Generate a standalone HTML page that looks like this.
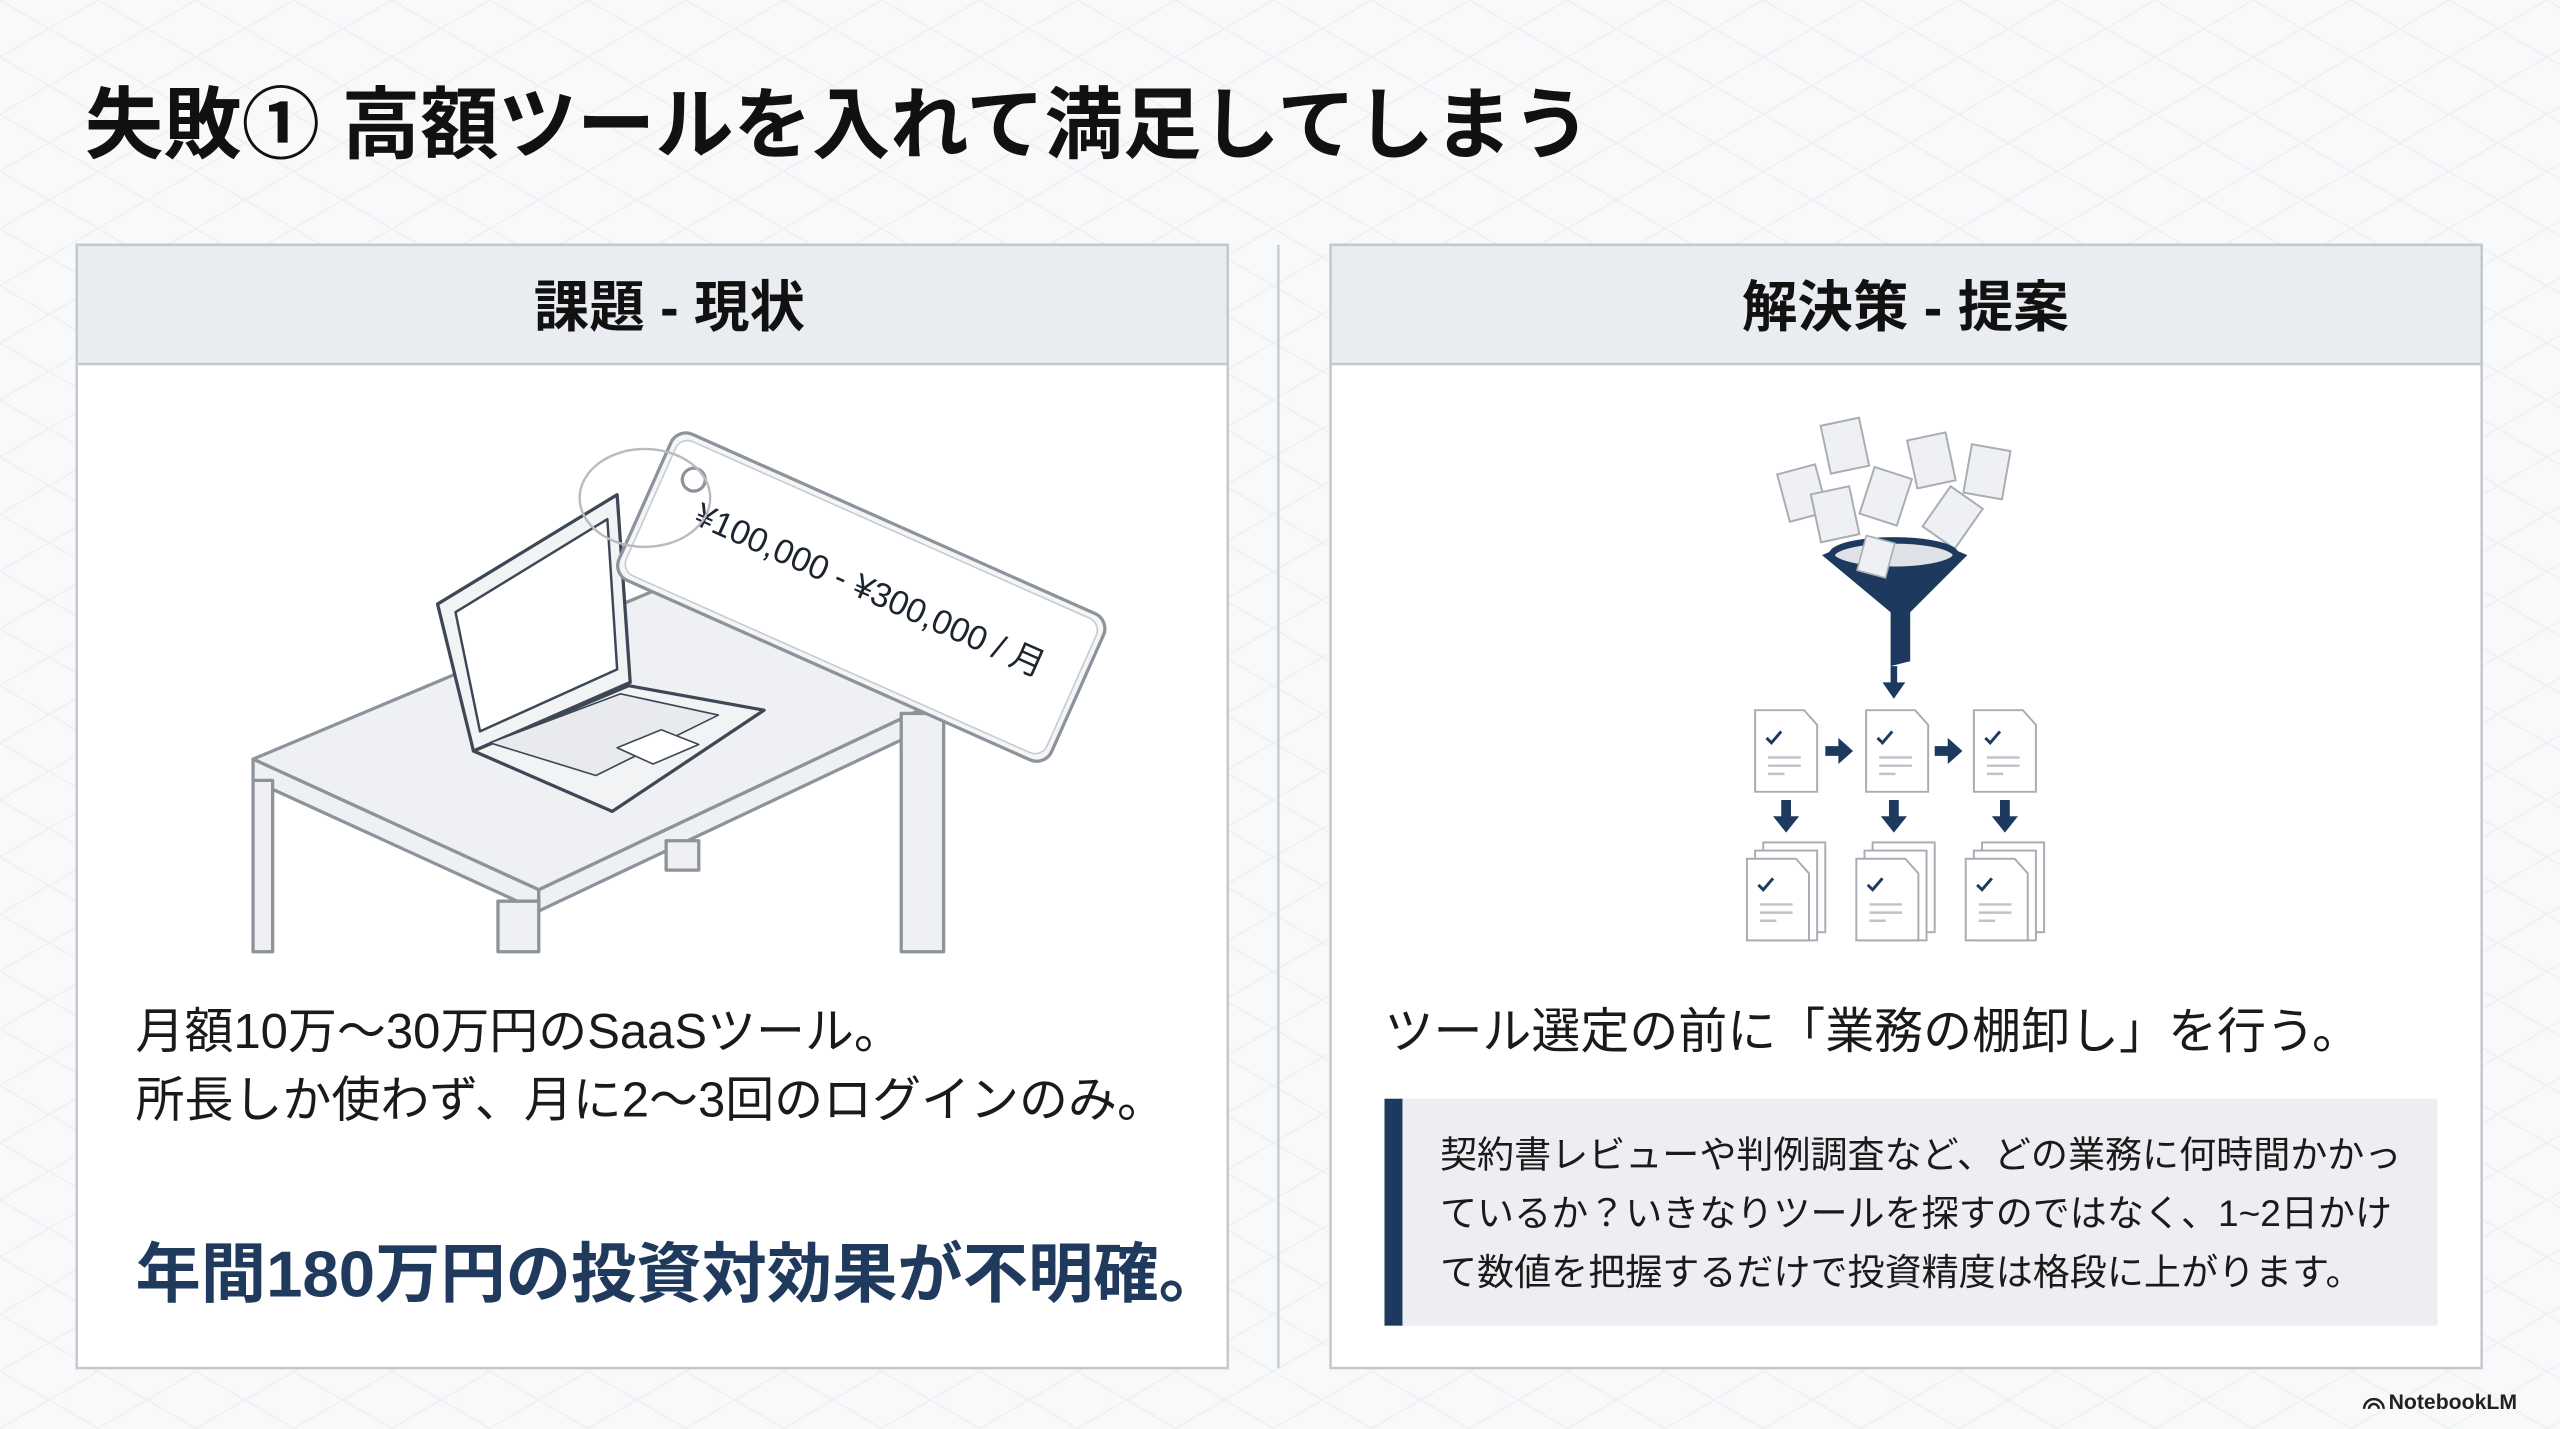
<!DOCTYPE html>
<html><head><meta charset="utf-8"><style>
html,body{margin:0;padding:0;background:#f7f8fa;}
svg{display:block}
text{font-family:"Liberation Sans","Noto Sans CJK JP",sans-serif;}
</style></head><body>
<svg width="2560" height="1429" viewBox="0 0 1568 875.3" preserveAspectRatio="none" xmlns="http://www.w3.org/2000/svg">
<defs>
<pattern id="grid" width="60" height="35" patternUnits="userSpaceOnUse">
<path d="M0 0 L60 35 M60 0 L0 35" stroke="#e9ecef" stroke-width="1" fill="none"/>
</pattern>
</defs>
<rect width="1568" height="876" fill="#f8f9fa"/>
<rect width="1568" height="876" fill="url(#grid)" opacity="0.7"/>
<text x="52" y="93" font-size="48" font-weight="bold" fill="#111">失敗① 高額ツールを入れて満足してしまう</text>

<line x1="783" y1="150" x2="783" y2="838" stroke="#c8ccd1" stroke-width="1.5"/>

<rect x="47" y="150" width="705" height="688" fill="#fff" stroke="#c4c8cd" stroke-width="1.5"/>
<rect x="47" y="150" width="705" height="73" fill="#e9ecf0" stroke="#c4c8cd" stroke-width="1.5"/>
<text x="410" y="200" font-size="34" font-weight="bold" fill="#111" text-anchor="middle">課題 - 現状</text>

<g fill="#eef0f3" stroke="#8d939b" stroke-width="2" stroke-linejoin="round">
<polygon points="155,465 405,360 578,428 330,545"/>
<polygon points="155,465 330,545 330,558 155,478"/>
<polygon points="330,545 578,428 578,441 330,558"/>
<rect x="155" y="478" width="12" height="105"/>
<rect x="305" y="552" width="25" height="31"/>
<rect x="552" y="437" width="26" height="146"/>
<rect x="408" y="515" width="20" height="18"/>
</g>
<g fill="#f2f3f5" stroke="#3d4756" stroke-width="2" stroke-linejoin="round">
<polygon points="290,460 385,420 468,435 375,497"/>
<polygon points="268,370 378,303 386,418 290,460"/>
<polygon points="279,375 372,318 378,410 294,448" fill="#fff" stroke-width="1.5"/>
<polygon points="300,455 380,425 440,438 365,475" fill="#e8eaee" stroke-width="1"/>
<polygon points="378,458 405,447 428,456 400,468" fill="#fff" stroke-width="1"/>
</g>
<g transform="translate(415,262) rotate(24)">
<rect x="0" y="0" width="290" height="98" rx="10" fill="#f4f5f7" stroke="#8d939b" stroke-width="2"/>
<rect x="4" y="4" width="282" height="90" rx="8" fill="#fff" stroke="#c8ccd1" stroke-width="1"/>
<circle cx="22" cy="25" r="7" fill="none" stroke="#8d939b" stroke-width="2"/>
<text x="32" y="50" font-size="21" fill="#1c2430">¥100,000 - ¥300,000 / 月</text>
</g>
<ellipse cx="395" cy="305" rx="40" ry="30" fill="none" stroke="#b8bcc2" stroke-width="1.5"/>

<text x="83" y="642" font-size="30" fill="#1a1a1a">月額10万～30万円のSaaSツール。</text>
<text x="83" y="684" font-size="30" fill="#1a1a1a">所長しか使わず、月に2～3回のログインのみ。</text>
<text x="83" y="794" font-size="40" font-weight="bold" fill="#1f3a5c">年間180万円の投資対効果が不明確。</text>

<rect x="815" y="150" width="705" height="688" fill="#fff" stroke="#c4c8cd" stroke-width="1.5"/>
<rect x="815" y="150" width="705" height="73" fill="#e9ecf0" stroke="#c4c8cd" stroke-width="1.5"/>
<text x="1167" y="200" font-size="34" font-weight="bold" fill="#111" text-anchor="middle">解決策 - 提案</text>

<g fill="#eef0f3" stroke="#a8adb4" stroke-width="1.2">
<rect x="1118" y="258" width="24" height="30" transform="rotate(-12 1130 273)"/>
<rect x="1092" y="287" width="24" height="30" transform="rotate(-15 1104 302)"/>
<rect x="1112" y="300" width="24" height="30" transform="rotate(-12 1124 315)"/>
<rect x="1143" y="289" width="24" height="30" transform="rotate(18 1155 304)"/>
<rect x="1171" y="267" width="24" height="30" transform="rotate(-12 1183 282)"/>
<rect x="1205" y="274" width="24" height="30" transform="rotate(10 1217 289)"/>
<rect x="1184" y="302" width="24" height="30" transform="rotate(35 1196 317)"/>
</g>
<g fill="#1d3a5e">
<path d="M1116 340 Q1160 320 1205 340 L1170 375 L1170 405 L1158 408 L1158 375 Z"/>
</g>
<ellipse cx="1160" cy="340" rx="38" ry="9" fill="#dfe3e8" stroke="#1d3a5e" stroke-width="4"/>
<rect x="1140" y="330" width="18" height="22" fill="#eef0f3" stroke="#a8adb4" transform="rotate(15 1149 341)"/>
<g fill="#1d3a5e">
<path d="M1158 408 h4 v10 h5 l-7 10 l-7 -10 h5z"/>
<path d="M1118 457 h8 v-5 l9 8 l-9 8 v-5 h-8z"/>
<path d="M1185 457 h8 v-5 l9 8 l-9 8 v-5 h-8z"/>
<path d="M1091 490 h6 v10 h5 l-8 10 l-8 -10 h5z"/>
<path d="M1157 490 h6 v10 h5 l-8 10 l-8 -10 h5z"/>
<path d="M1225 490 h6 v10 h5 l-8 10 l-8 -10 h5z"/>
</g>
<g id="doc" fill="#fff" stroke="#a8adb4" stroke-width="1.2">
<path d="M1075 435 h30 l8 9 v41 h-38z"/>
<path d="M1082 452 l3 3 l6 -7" fill="none" stroke="#1d3a5e" stroke-width="1.8"/>
<path d="M1083 464 h20 M1083 469 h20 M1083 474 h10" stroke="#bfc3c8" stroke-width="1.5"/>
</g>
<use href="#doc" x="68"/>
<use href="#doc" x="134"/>
<g id="stack" fill="#fff" stroke="#a8adb4" stroke-width="1.2">
<rect x="1080" y="516" width="38" height="55"/>
<rect x="1075" y="521" width="38" height="55"/>
<path d="M1070 526 h30 l8 9 v41 h-38z"/>
<path d="M1077 542 l3 3 l6 -7" fill="none" stroke="#1d3a5e" stroke-width="1.8"/>
<path d="M1078 554 h20 M1078 559 h20 M1078 564 h10" stroke="#bfc3c8" stroke-width="1.5"/>
</g>
<use href="#stack" x="67"/>
<use href="#stack" x="134"/>

<text x="848" y="642" font-size="30" fill="#1a1a1a">ツール選定の前に「業務の棚卸し」を行う。</text>
<rect x="848" y="673" width="645" height="139" fill="#eceef1"/>
<rect x="848" y="673" width="11" height="139" fill="#1d3a5e"/>
<text x="882" y="715" font-size="22.7" fill="#1a1a1a">契約書レビューや判例調査など、どの業務に何時間かかっ</text>
<text x="882" y="751" font-size="22.7" fill="#1a1a1a">ているか？いきなりツールを探すのではなく、1~2日かけ</text>
<text x="882" y="787" font-size="22.7" fill="#1a1a1a">て数値を把握するだけで投資精度は格段に上がります。</text>

<text x="1463" y="863" font-size="13" font-weight="bold" fill="#222">NotebookLM</text>
<path d="M1448 863 a6 6 0 0 1 12 0 M1451 863 a3 3 0 0 1 6 0" fill="none" stroke="#222" stroke-width="1.5"/>
</svg>
</body></html>
